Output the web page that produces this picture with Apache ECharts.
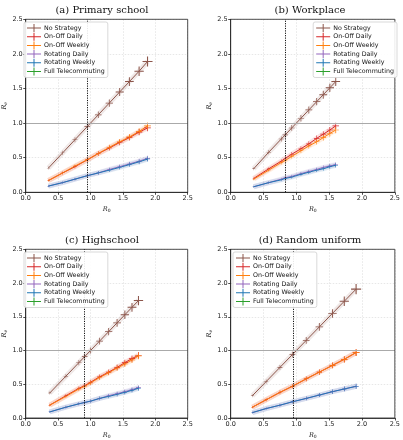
<!DOCTYPE html>
<html>
<head>
<meta charset="utf-8">
<script src="https://cdn.jsdelivr.net/npm/echarts@6/dist/echarts.min.js"></script>
<style>html,body{margin:0;padding:0;background:#fff}#c{width:403px;height:440px}</style>
</head>
<body>
<div id="c"></div>
<script>
// ---- data ----
const panelTitles = ['(a) Primary school', '(b) Workplace', '(c) Highschool', '(d) Random uniform'];
const strategies = ['No Strategy', 'On-Off Daily', 'On-Off Weekly', 'Rotating Daily', 'Rotating Weekly', 'Full Telecommuting'];
const axisTicks = [0.0, 0.5, 1.0, 1.5, 2.0, 2.5];
const thresholdR0 = [0.95, 0.835, 0.90, 0.95];

// (a) Primary school
const aR0 = [0.35, 0.57, 0.76, 0.95, 1.12, 1.29, 1.45, 1.60, 1.75, 1.88];
const aNo = [0.35, 0.57, 0.76, 0.95, 1.12, 1.29, 1.45, 1.60, 1.75, 1.89];
const aOnD = [0.17, 0.28, 0.37, 0.47, 0.56, 0.64, 0.72, 0.79, 0.87, 0.93];
const aOnW = [0.17, 0.28, 0.38, 0.47, 0.56, 0.65, 0.73, 0.80, 0.88, 0.96];
const aRotD = [0.09, 0.14, 0.19, 0.24, 0.28, 0.33, 0.37, 0.41, 0.45, 0.49];
const aRotW = [0.09, 0.14, 0.19, 0.24, 0.28, 0.32, 0.36, 0.40, 0.44, 0.48];
const aFull = [];

// (b) Workplace
const bR0 = [0.35, 0.58, 0.77, 0.83, 0.93, 1.07, 1.19, 1.31, 1.41, 1.51, 1.60];
const bNo = [0.34, 0.58, 0.77, 0.83, 0.93, 1.07, 1.19, 1.31, 1.41, 1.51, 1.60];
const bOnD = [0.20, 0.34, 0.45, 0.49, 0.55, 0.63, 0.70, 0.78, 0.84, 0.90, 0.96];
const bOnW = [0.19, 0.32, 0.43, 0.46, 0.52, 0.60, 0.67, 0.73, 0.79, 0.85, 0.90];
const bRotD = [0.08, 0.14, 0.19, 0.21, 0.23, 0.27, 0.30, 0.33, 0.36, 0.38, 0.40];
const bRotW = [0.08, 0.14, 0.18, 0.20, 0.22, 0.26, 0.29, 0.32, 0.34, 0.37, 0.39];
const bFull = [];

// (c) Highschool
const cR0 = [0.37, 0.62, 0.82, 0.91, 1.00, 1.14, 1.28, 1.41, 1.53, 1.64, 1.74];
const cNo = [0.37, 0.62, 0.82, 0.91, 1.00, 1.14, 1.28, 1.41, 1.53, 1.64, 1.74];
const cOnD = [0.19, 0.33, 0.44, 0.48, 0.53, 0.61, 0.68, 0.75, 0.82, 0.88, 0.93];
const cOnW = [0.19, 0.32, 0.43, 0.47, 0.52, 0.60, 0.67, 0.74, 0.80, 0.86, 0.92];
const cRotD = [0.09, 0.16, 0.21, 0.23, 0.25, 0.29, 0.33, 0.36, 0.39, 0.42, 0.45];
const cRotW = [0.09, 0.16, 0.21, 0.23, 0.25, 0.29, 0.32, 0.35, 0.38, 0.41, 0.44];
const cFull = [];

// (d) Random uniform
const dR0 = [0.33, 0.54, 0.75, 0.94, 1.15, 1.35, 1.55, 1.73, 1.91];
const dNo = [0.33, 0.54, 0.75, 0.94, 1.15, 1.35, 1.55, 1.73, 1.91];
const dOnD = [0.16, 0.27, 0.38, 0.47, 0.58, 0.68, 0.78, 0.87, 0.97];
const dOnW = [0.16, 0.27, 0.38, 0.47, 0.58, 0.68, 0.78, 0.87, 0.97];
const dRotD = [0.08, 0.14, 0.19, 0.24, 0.29, 0.34, 0.39, 0.43, 0.47];
const dRotW = [0.08, 0.14, 0.19, 0.24, 0.29, 0.34, 0.39, 0.43, 0.47];
const dFull = [];

const panelX = [aR0, bR0, cR0, dR0];
const panelY = [
  [aNo, aOnD, aOnW, aRotD, aRotW, aFull],
  [bNo, bOnD, bOnW, bRotD, bRotW, bFull],
  [cNo, cOnD, cOnW, cRotD, cRotW, cFull],
  [dNo, dOnD, dOnW, dRotD, dRotW, dFull]
];

// ---- styles ----
const colors = ['#8c564b', '#d62728', '#ff7f0e', '#9467bd', '#1f77b4', '#2ca02c'];
const grids = [
  {left: 21.7, top: 19.3, width: 166, height: 173},
  {left: 230.7, top: 19.3, width: 166.5, height: 173},
  {left: 21.7, top: 249.3, width: 166, height: 173},
  {left: 230.7, top: 249.3, width: 166.5, height: 173}
];
const titlePos = [{x: 97, y: 0}, {x: 305, y: 0}, {x: 97, y: 230}, {x: 305, y: 230}];
const legendPos = [
  {left: 24, top: 22}, {right: 6, top: 22}, {left: 24, top: 252}, {left: 233, top: 252}
];
const plusPath = 'path://M0,4.45H10V5.55H0Z M4.45,0H5.55V10H4.45Z';
const legendIcon = 'path://M0,3.5H14V4.5H0Z M6.5,0H7.5V8H6.5Z';
const tickFont = {fontFamily: 'DejaVu Sans', fontSize: 6.5, color: '#222'};

const option = {
  animation: false,
  backgroundColor: '#fff',
  color: colors,
  title: panelTitles.map((t, i) => ({
    text: t, left: titlePos[i].x, top: titlePos[i].y, textAlign: 'center',
    textStyle: {fontFamily: 'DejaVu Serif', fontWeight: 'normal', fontSize: 10, color: '#111'}
  })),
  grid: grids.map(g => Object.assign({show: true, z: 10, borderColor: '#222', borderWidth: 0.8, backgroundColor: 'transparent'}, g)),
  xAxis: grids.map((g, i) => ({
    gridIndex: i, type: 'value', min: 0, max: 2.5, interval: 0.5,
    name: 'R{s|0}', nameLocation: 'middle', nameGap: 13,
    nameTextStyle: {fontFamily: 'DejaVu Serif', fontStyle: 'italic', fontSize: 6.5, color: '#222',
      rich: {s: {fontSize: 4.5, verticalAlign: 'bottom', fontStyle: 'normal', padding: [3, 0, 0, 0]}}},
    axisLine: {show: true, onZero: false, lineStyle: {color: '#222', width: 0.8}},
    axisTick: {show: true, length: 2.5, lineStyle: {color: '#222', width: 0.8}},
    axisLabel: Object.assign({margin: 3, formatter: v => v.toFixed(1)}, tickFont),
    splitLine: {show: true, lineStyle: {color: '#dcdcdc', type: [1.5, 1.5], width: 0.7}}
  })),
  yAxis: grids.map((g, i) => ({
    gridIndex: i, type: 'value', min: 0, max: 2.5, interval: 0.5,
    name: 'R{s|e}', nameLocation: 'middle', nameGap: 15, nameRotate: 90,
    nameTextStyle: {fontFamily: 'DejaVu Serif', fontStyle: 'italic', fontSize: 6.5, color: '#222',
      rich: {s: {fontSize: 4.5, verticalAlign: 'bottom', padding: [3, 0, 0, 0]}}},
    axisLine: {show: true, onZero: false, lineStyle: {color: '#222', width: 0.8}},
    axisTick: {show: true, length: 2.5, lineStyle: {color: '#222', width: 0.8}},
    axisLabel: Object.assign({margin: 3, formatter: v => v.toFixed(1)}, tickFont),
    splitLine: {show: true, lineStyle: {color: '#dcdcdc', type: [1.5, 1.5], width: 0.7}}
  })),
  legend: legendPos.map(p => Object.assign({
    orient: 'vertical', data: strategies, icon: legendIcon, itemWidth: 14, itemHeight: 8,
    itemGap: 0.7, padding: [2, 3, 2, 3], borderColor: '#cfcfcf', borderWidth: 0.8, borderRadius: 2,
    backgroundColor: 'rgba(255,255,255,0.9)', selectedMode: false, z: 12,
    textStyle: {fontFamily: 'DejaVu Sans', fontSize: 6.3, color: '#111', padding: [0, 0, 0, -2], lineHeight: 8}
  }, p)),
  series: []
};

for (let p = 0; p < 4; p++) {
  const xs = panelX[p];
  // bands
  strategies.forEach((s, k) => {
    const ys = panelY[p][k];
    option.series.push({
      name: s + ' band', type: 'line', xAxisIndex: p, yAxisIndex: p, silent: true,
      data: ys.map((y, j) => [xs[j], y]), showSymbol: false, z: 1,
      lineStyle: {color: colors[k], width: 5, opacity: 0.13}
    });
  });
  strategies.forEach((s, k) => {
    const ys = panelY[p][k];
    const ser = {
      name: s, type: 'line', xAxisIndex: p, yAxisIndex: p, z: 3,
      data: ys.map((y, j) => [xs[j], y]),
      symbol: plusPath, symbolSize: v => 1.5 + 3.5 * v[1] + v[0],
      itemStyle: {color: colors[k]},
      lineStyle: {color: colors[k], width: 1}
    };
    if (k === 0) {
      ser.markLine = {
        silent: true, symbol: 'none', label: {show: false}, animation: false,
        data: [
          [{coord: [thresholdR0[p], 0], lineStyle: {color: '#111', type: [1.2, 1.2], width: 1}},
           {coord: [thresholdR0[p], 2.5]}],
          [{coord: [0, 1], lineStyle: {color: '#aaa', type: 'solid', width: 1}},
           {coord: [2.5, 1]}]
        ]
      };
    }
    option.series.push(ser);
  });
}

const chart = echarts.init(document.getElementById('c'), null, {renderer: 'canvas'});
chart.setOption(option);
</script>
</body>
</html>
